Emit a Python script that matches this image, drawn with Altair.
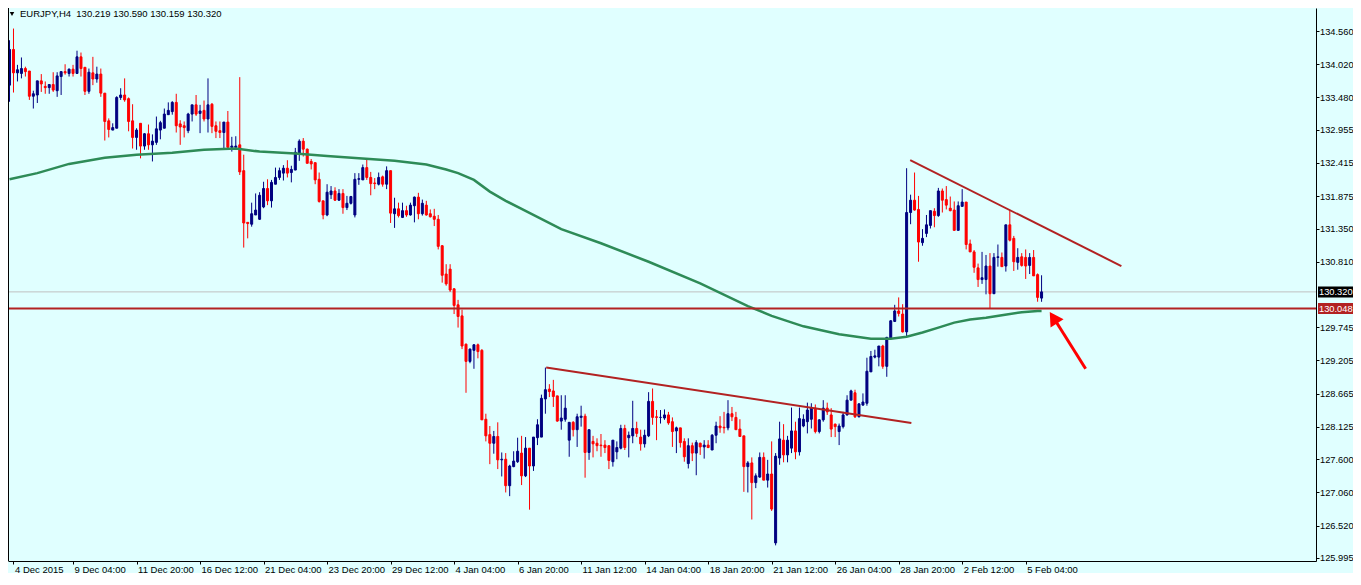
import json
import altair as alt
import pandas as pd

# ---------------- data (EURJPY H4) ----------------
OPEN = [
    133.68,134.26,133.88,133.87,133.95,133.91,133.50,133.52,133.75,133.66,
    133.64,133.69,133.59,133.82,133.90,133.87,133.94,133.87,134.14,133.97,
    133.58,133.88,133.78,133.86,133.55,133.10,132.95,132.98,133.48,133.52,
    133.46,133.10,132.83,133.06,132.69,132.89,132.71,132.75,132.95,132.98,
    133.20,133.25,133.40,133.05,133.02,132.94,133.21,133.36,133.22,133.27,
    133.13,133.37,133.02,132.94,132.91,133.08,132.67,132.67,132.71,132.29,
    131.45,131.42,131.57,131.50,131.70,132.00,131.80,132.07,132.18,132.25,
    132.33,132.26,132.30,132.57,132.77,132.64,132.44,132.42,132.15,131.80,
    131.57,131.90,131.96,131.81,131.92,131.69,131.76,131.57,132.15,132.14,
    132.34,132.18,132.09,132.07,132.19,132.07,132.29,131.59,131.67,131.53,
    131.64,131.57,131.72,131.86,131.59,131.73,131.59,131.55,131.50,131.07,
    130.61,130.69,130.37,130.11,129.93,129.47,129.19,129.37,129.46,129.37,
    128.25,128.00,127.86,127.97,127.59,127.60,127.17,127.48,127.56,127.70,
    127.33,127.78,127.49,127.95,127.96,128.58,128.74,128.71,128.63,128.22,
    128.25,127.91,128.20,128.08,128.28,128.30,127.71,127.89,127.86,127.83,
    127.83,127.82,127.56,127.72,127.78,128.10,127.95,127.98,128.10,127.96,
    127.85,127.98,128.54,128.29,128.28,128.27,128.32,128.21,128.06,128.11,
    127.89,127.53,127.82,127.70,127.86,127.80,127.83,127.75,127.99,128.14,
    128.12,128.11,128.34,128.28,128.09,127.98,127.48,127.54,127.22,127.31,
    127.63,127.26,127.36,126.24,127.62,127.91,127.67,127.78,128.06,127.72,
    128.14,128.21,128.25,128.43,128.05,128.24,128.43,128.32,128.17,128.05,
    128.13,128.32,128.56,128.68,128.29,128.48,128.51,129.02,129.26,129.26,
    129.44,129.11,129.57,129.84,130.01,129.96,129.67,131.61,131.81,131.66,
    131.12,131.27,131.40,131.63,131.56,131.96,131.82,131.68,131.65,131.32,
    131.71,131.78,131.10,130.97,130.71,130.52,130.52,130.74,130.29,130.88,
    130.88,130.74,131.41,131.19,130.80,130.89,130.88,130.75,130.88,130.60,
    130.219,
]
HIGH = [
    134.41,134.60,134.01,134.13,133.98,133.91,133.59,133.75,133.86,133.74,
    133.69,133.89,133.89,133.90,134.02,133.95,134.01,134.24,134.21,133.97,
    133.95,134.14,133.98,133.95,133.55,133.14,133.06,133.50,133.63,133.79,
    133.48,133.37,132.98,133.06,132.90,133.04,132.88,133.17,133.10,133.30,
    133.40,133.42,133.54,133.11,133.09,133.23,133.36,133.52,133.36,133.43,
    133.79,133.39,133.09,133.09,133.08,133.26,132.84,132.85,133.81,132.55,
    131.45,131.77,131.92,131.94,132.11,132.15,132.14,132.34,132.34,132.38,
    132.46,132.37,132.66,132.80,132.82,132.65,132.48,132.42,132.26,131.80,
    132.07,132.04,132.02,131.99,131.99,131.88,131.88,132.25,132.25,132.39,
    132.47,132.27,132.17,132.26,132.21,132.36,132.29,131.85,131.77,131.77,
    131.72,131.77,131.87,131.93,131.82,131.80,131.66,131.67,131.57,131.08,
    130.77,130.77,130.38,130.19,130.03,129.48,129.40,129.47,129.48,129.39,
    128.34,128.14,128.06,128.20,127.71,127.70,127.51,127.73,127.95,127.98,
    127.96,127.78,127.96,128.25,128.65,129.09,128.82,128.89,128.63,128.64,
    128.64,128.20,128.22,128.34,128.47,128.34,128.08,127.98,127.94,128.01,
    127.91,127.82,127.91,127.89,128.16,128.16,128.05,128.55,128.21,128.08,
    128.08,128.69,128.75,128.40,128.40,128.41,128.37,128.28,128.13,128.11,
    127.94,127.94,127.87,127.91,127.87,127.91,127.91,128.01,128.21,128.30,
    128.37,128.56,128.45,128.37,128.25,127.98,127.57,127.63,127.37,127.71,
    127.71,127.59,127.89,127.70,128.21,128.17,127.98,128.44,128.21,128.44,
    128.33,128.52,128.51,128.49,128.25,128.56,128.52,128.43,128.18,128.18,
    128.37,128.64,128.73,128.73,128.51,128.67,129.25,129.36,129.38,129.44,
    129.46,129.59,129.86,130.11,130.23,130.12,132.33,131.90,132.26,131.88,
    131.34,131.57,131.64,131.68,132.01,132.00,132.04,131.87,131.79,131.79,
    131.99,131.78,131.17,131.00,130.78,130.97,130.92,130.95,130.95,131.09,
    130.96,131.41,131.65,131.23,131.03,130.95,131.01,130.95,131.00,130.62,
    130.590,
]
LOW = [
    133.41,133.56,133.74,133.79,133.82,133.44,133.30,133.39,133.57,133.54,
    133.54,133.57,133.49,133.52,133.85,133.82,133.82,133.87,133.82,133.52,
    133.54,133.68,133.72,133.49,132.78,132.83,132.95,132.98,133.44,133.41,
    132.93,132.65,132.63,132.49,132.63,132.63,132.44,132.71,132.80,132.98,
    133.20,133.20,132.91,132.71,132.83,132.90,133.09,133.18,132.90,133.09,
    132.91,132.90,132.82,132.82,132.65,132.63,132.60,132.64,132.22,131.04,
    131.19,131.38,131.57,131.49,131.68,131.73,131.69,132.07,132.14,132.13,
    132.18,132.10,132.30,132.45,132.52,132.41,132.31,132.07,131.77,131.50,
    131.55,131.83,131.80,131.80,131.59,131.65,131.74,131.53,132.06,132.14,
    132.14,131.89,131.99,132.05,132.03,131.99,131.44,131.36,131.53,131.52,
    131.54,131.56,131.45,131.50,131.56,131.56,131.53,131.39,131.01,130.47,
    130.42,130.32,129.96,129.74,129.39,128.68,129.16,129.07,129.24,128.24,
    127.89,127.52,127.69,127.44,127.32,127.06,127.00,127.47,127.54,127.18,
    127.31,126.78,127.41,127.83,127.96,128.34,128.61,128.45,128.21,128.08,
    128.21,127.64,127.97,127.80,128.13,127.30,127.59,127.63,127.73,127.64,
    127.70,127.44,127.48,127.60,127.76,127.75,127.63,127.86,127.96,127.74,
    127.79,127.96,128.16,127.91,128.18,128.24,128.16,127.80,127.70,127.79,
    127.56,127.45,127.57,127.34,127.67,127.61,127.78,127.75,127.86,128.03,
    128.02,128.07,128.22,128.08,127.97,127.07,127.06,126.62,127.13,127.30,
    127.26,127.14,126.76,126.20,127.51,127.55,127.55,127.70,127.60,127.66,
    128.12,128.02,128.10,128.02,128.02,128.21,128.32,127.96,127.96,127.83,
    128.10,128.31,128.56,128.27,128.28,128.47,128.47,129.02,129.24,129.11,
    129.07,128.94,129.55,129.83,129.92,129.66,129.59,131.42,131.64,130.81,
    131.07,131.21,131.35,131.37,131.54,131.61,131.66,131.63,131.32,131.32,
    131.71,131.01,130.97,130.63,130.40,130.45,130.28,130.05,130.29,130.73,
    130.73,130.65,131.14,130.66,130.68,130.73,130.53,130.61,130.58,130.16,
    130.159,
]
CLOSE = [
    134.26,133.88,133.93,133.95,133.90,133.50,133.54,133.75,133.70,133.64,
    133.69,133.60,133.83,133.90,133.88,133.94,133.87,134.14,133.95,133.58,
    133.89,133.78,133.86,133.55,133.09,132.96,132.99,133.48,133.52,133.44,
    133.09,132.83,132.95,132.69,132.89,132.71,132.77,132.97,133.07,133.21,
    133.27,133.40,133.02,133.00,132.99,133.21,133.36,133.21,133.26,133.13,
    133.36,133.01,132.93,132.91,133.08,132.67,132.69,132.69,132.27,131.44,
    131.43,131.59,131.65,131.89,132.00,131.80,132.10,132.18,132.29,132.33,
    132.25,132.31,132.59,132.77,132.64,132.41,132.40,132.14,131.79,131.57,
    131.94,131.96,131.81,131.92,131.69,131.76,131.87,132.15,132.16,132.34,
    132.18,132.08,132.08,132.18,132.07,132.29,131.60,131.67,131.56,131.64,
    131.57,131.73,131.86,131.59,131.76,131.57,131.54,131.50,131.06,130.59,
    130.45,130.35,130.10,129.92,129.44,129.19,129.39,129.46,129.35,128.24,
    127.98,127.86,127.97,127.59,127.60,127.17,127.49,127.57,127.73,127.33,
    127.78,127.49,127.96,128.16,128.59,128.73,128.70,128.62,128.22,128.27,
    128.43,128.20,128.08,128.29,128.30,127.71,128.08,127.85,127.82,127.82,
    127.79,127.58,127.91,127.79,128.10,127.79,127.99,128.10,128.02,127.85,
    127.99,128.54,128.28,128.28,128.28,128.32,128.19,128.05,128.11,127.87,
    127.64,127.82,127.70,127.87,127.80,127.83,127.79,127.99,128.14,128.11,
    128.11,128.34,128.29,128.08,127.97,127.48,127.54,127.22,127.33,127.63,
    127.26,127.36,126.79,127.65,127.93,127.67,127.91,128.06,127.72,128.26,
    128.25,128.40,128.44,128.05,128.24,128.43,128.37,128.09,128.13,128.14,
    128.32,128.56,128.71,128.29,128.50,128.53,129.03,129.27,129.28,129.44,
    129.11,129.58,129.85,130.01,129.97,129.67,131.61,131.81,131.65,131.13,
    131.19,131.41,131.64,131.56,131.96,131.81,131.73,131.64,131.32,131.72,
    131.78,131.09,130.97,130.72,130.52,130.55,130.74,130.29,130.88,130.89,
    130.73,131.41,131.16,130.81,130.88,130.75,130.74,130.88,130.58,130.23,
    130.320,
]

# moving average (green), read at selected bars
MA_BAR = [0, 7, 15, 24, 32, 41, 49, 57, 63, 72, 80, 88, 97, 105, 110, 113, 117,
          121, 125, 129, 139, 149, 161, 174, 186, 192, 200, 209, 217, 222, 226,
          230, 234, 238, 242, 246, 250, 255, 259, 260]
MA_VAL = [132.15, 132.25, 132.40, 132.50, 132.55, 132.58, 132.63, 132.65, 132.60,
          132.57, 132.53, 132.49, 132.45, 132.39, 132.31, 132.25, 132.14, 131.95,
          131.80, 131.67, 131.34, 131.11, 130.81, 130.46, 130.09, 129.93, 129.76,
          129.63, 129.56, 129.56, 129.59, 129.66, 129.74, 129.82, 129.87, 129.90,
          129.94, 129.99, 130.01, 130.01]

# trend lines (bar index / price)
TL_X1 = [135.2, 226.9]
TL_Y1 = [129.09, 132.46]
TL_X2 = [227.2, 280.1]
TL_Y2 = [128.19, 130.74]

LEVEL_PRICE = 130.048
BID_PRICE = 130.320

ARROW_TAIL = (271.1, 129.07)
ARROW_NECK = (263.5, 129.85)
ARROW_HEAD = (262.98, 129.90)

X_TICKS = [1, 16, 32, 48, 64, 80, 96, 112, 128, 144, 160, 176, 192, 208, 224, 240, 256]
X_LABELS = ["4 Dec 2015", "9 Dec 04:00", "11 Dec 20:00", "16 Dec 12:00", "21 Dec 04:00",
            "23 Dec 20:00", "29 Dec 12:00", "4 Jan 04:00", "6 Jan 20:00", "11 Jan 12:00",
            "14 Jan 04:00", "18 Jan 20:00", "21 Jan 12:00", "26 Jan 04:00", "28 Jan 20:00",
            "2 Feb 12:00", "5 Feb 04:00"]
Y_TICKS = [134.560, 134.020, 133.480, 132.955, 132.415, 131.875, 131.350, 130.810,
           129.745, 129.205, 128.665, 128.125, 127.600, 127.060, 126.520, 125.995]

TITLE = "EURJPY,H4\u00a0\u00a0130.219 130.590 130.159 130.320"

# ---------------- chart ----------------
FONT = "Liberation Sans"
W, H = 1308, 553
PAD_R, PAD_B = 37, 12
xs = alt.Scale(domain=[0.875, 327.875], nice=False, zero=False)
ys = alt.Scale(domain=[125.946, 134.934], nice=False, zero=False)
cs = alt.Scale(domain=["up", "down"], range=["#000080", "#FF0000"])

n = len(OPEN)
df = pd.DataFrame({"i": list(range(n)), "open": OPEN, "high": HIGH,
                   "low": LOW, "close": CLOSE})
df["dir"] = ["up" if c >= o else "down" for o, c in zip(OPEN, CLOSE)]

label_expr = json.dumps(X_LABELS) + "[round(datum.value/16)]"

x_axis = alt.Axis(values=X_TICKS, labelExpr=label_expr, labelAlign="left",
                  labelBaseline="top",
                  labelFlush=False, labelOverlap=False, labelBound=False,
                  tickSize=3, labelPadding=0, labelOffset=1, grid=False,
                  title=None, domainColor="black", tickColor="black",
                  labelFont=FONT, labelFontSize=9.5, labelColor="black")
y_axis = alt.Axis(values=Y_TICKS, format=".3f", orient="right", grid=False,
                  title=None, tickSize=3, labelPadding=0.5, labelOverlap=False,
                  labelFlush=False, labelBound=False,
                  domainColor="black", tickColor="black",
                  labelFont=FONT, labelFontSize=9.3, labelColor="black")


def X(field):
    return alt.X(field, type="quantitative", scale=xs, axis=x_axis)


def Y(field):
    return alt.Y(field, type="quantitative", scale=ys, axis=y_axis)


base = alt.Chart(df)

bid = alt.Chart(pd.DataFrame({"p": [BID_PRICE]})).mark_rule(
    color="#C0C0C0", strokeWidth=1).encode(y=Y("p"))

wicks = base.mark_rule(strokeWidth=1).encode(
    x=X("i"), y=Y("low"), y2="high:Q",
    color=alt.Color("dir:N", scale=cs, legend=None))

bodies = base.mark_bar(width=2, strokeWidth=1).encode(
    x=X("i"), y=Y("open"), y2="close:Q",
    color=alt.Color("dir:N", scale=cs, legend=None),
    stroke=alt.Color("dir:N", scale=cs, legend=None))

ma = alt.Chart(pd.DataFrame({"i": MA_BAR, "v": MA_VAL})).mark_line(
    color="#2E8B57", strokeWidth=2.5).encode(x=X("i"), y=Y("v"))

tl = alt.Chart(pd.DataFrame({"x1": TL_X1, "y1": TL_Y1, "x2": TL_X2, "y2": TL_Y2})).mark_rule(
    color="#B22222", strokeWidth=2).encode(
    x=X("x1"), x2="x2:Q", y=Y("y1"), y2="y2:Q")

level = alt.Chart(pd.DataFrame({"p": [LEVEL_PRICE]})).mark_rule(
    color="#B22222", strokeWidth=2).encode(y=Y("p"))

arrow_line = alt.Chart(pd.DataFrame({"x1": [ARROW_TAIL[0]], "y1": [ARROW_TAIL[1]],
                                     "x2": [ARROW_NECK[0]], "y2": [ARROW_NECK[1]]})).mark_rule(
    color="#FF0000", strokeWidth=3).encode(
    x=X("x1"), x2="x2:Q", y=Y("y1"), y2="y2:Q")

arrow_head = alt.Chart(pd.DataFrame({"x": [ARROW_HEAD[0]], "y": [ARROW_HEAD[1]]})).mark_point(
    shape="triangle-up", filled=True, color="#FF0000", size=240, angle=327, opacity=1).encode(
    x=X("x"), y=Y("y"))

boxes_df = pd.DataFrame({"p": [BID_PRICE, LEVEL_PRICE],
                         "t": ["%.3f" % BID_PRICE, "%.3f" % LEVEL_PRICE],
                         "c": ["black", "#B22222"]})
boxes = alt.Chart(boxes_df).mark_rule(strokeWidth=11).encode(
    x=alt.value(W + 2), x2=alt.value(W + PAD_R),
    y=Y("p"),
    color=alt.Color("c:N", scale=None, legend=None))
box_text = alt.Chart(boxes_df).mark_text(
    align="left", baseline="middle", color="white", font=FONT, fontSize=9.3).encode(
    x=alt.value(W + 3), y=Y("p"), text="t:N")

left_border = alt.Chart(pd.DataFrame({"a": [0]})).mark_rule(color="black", strokeWidth=1).encode(
    x=alt.value(0.5), y=alt.value(0), y2=alt.value(H))

title_df = pd.DataFrame({"t": [TITLE]})
title_tri = alt.Chart(title_df).mark_point(
    shape="triangle-down", filled=True, color="black", size=20, opacity=1).encode(
    x=alt.value(4), y=alt.value(6))
title_txt = alt.Chart(title_df).mark_text(
    align="left", baseline="middle", color="black", font=FONT, fontSize=9.5).encode(
    x=alt.value(12), y=alt.value(6), text="t:N")

chart = alt.layer(
    bid, wicks, bodies, ma, tl, level, arrow_line, arrow_head,
    boxes, box_text, left_border, title_tri, title_txt
).properties(
    width=W, height=H,
    background="#E0FFFF",
    padding={"left": 0, "top": 0, "right": PAD_R, "bottom": PAD_B},
    autosize=alt.AutoSizeParams(type="none"),
).configure_view(stroke=None)

chart.save("out.html", embed_options={"renderer": "svg", "actions": False})
